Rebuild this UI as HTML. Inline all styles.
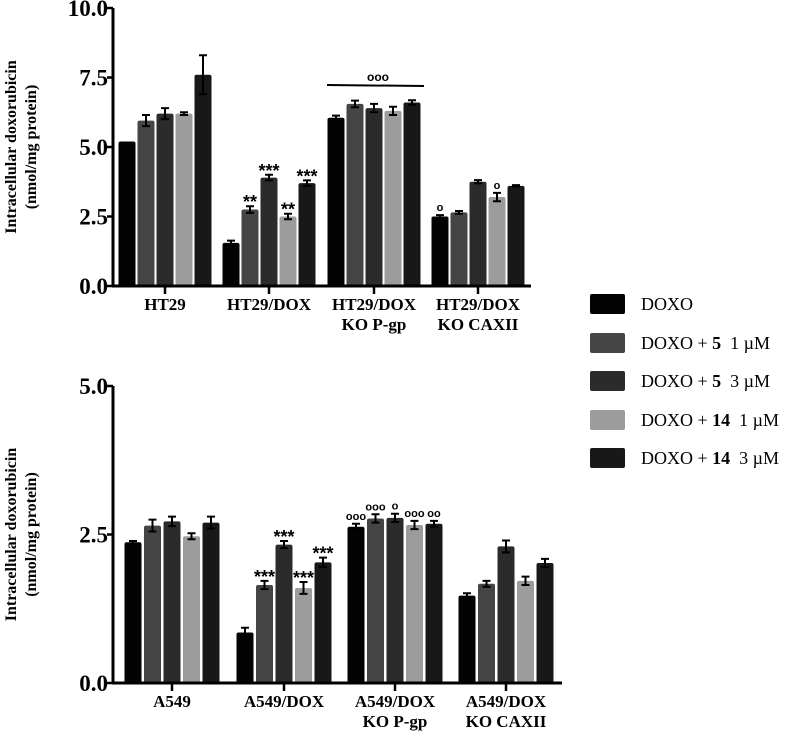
<!DOCTYPE html>
<html><head><meta charset="utf-8"><style>
html,body{margin:0;padding:0;background:#fff;}
svg{display:block;font-family:"Liberation Serif",serif;}
</style></head><body>
<svg id="c" width="796" height="748" viewBox="0 0 796 748" xmlns="http://www.w3.org/2000/svg"></svg>
<script>
const seriesNames=["DOXO","DOXO + 5  1 µM","DOXO + 5  3 µM","DOXO + 14  1 µM","DOXO + 14  3 µM"];
const colors=["#030303","#454545","#2b2b2b","#9c9c9c","#181818"];
const topCats=[["HT29"],["HT29/DOX"],["HT29/DOX","KO P-gp"],["HT29/DOX","KO CAXII"]];
const topVals=[[5.2,5.95,6.2,6.2,7.6],[1.55,2.75,3.9,2.5,3.7],[6.05,6.55,6.4,6.3,6.6],[2.5,2.65,3.75,3.2,3.6]];
const topErr=[[0,0.2,0.2,0.05,0.7],[0.08,0.12,0.1,0.1,0.1],[0.08,0.12,0.15,0.15,0.08],[0.05,0.05,0.06,0.15,0.03]];
const topMarks=[["","","","",""],["","**","***","**","***"],["","","","",""],["o","","","o",""]];
const topTicks=[0,2.5,5,7.5,10];
const botCats=[["A549"],["A549/DOX"],["A549/DOX","KO P-gp"],["A549/DOX","KO CAXII"]];
const botVals=[[2.37,2.65,2.72,2.47,2.7],[0.85,1.65,2.33,1.6,2.03],[2.63,2.77,2.78,2.66,2.68],[1.47,1.67,2.3,1.72,2.02]];
const botErr=[[0.02,0.1,0.08,0.05,0.1],[0.08,0.07,0.06,0.1,0.08],[0.05,0.07,0.07,0.07,0.05],[0.04,0.05,0.1,0.07,0.07]];
const botMarks=[["","","","",""],["","***","***","***","***"],["ooo","ooo","o","ooo","oo"],["","","","",""]];
const botTicks=[0,2.5,5];

const svg=document.getElementById('c');
const NS="http://www.w3.org/2000/svg";
function el(t,a,p){const e=document.createElementNS(NS,t);for(const k in a)e.setAttribute(k,a[k]);(p||svg).appendChild(e);return e;}

function panel(cfg){
  const g=el('g',{});
  
  
  const y=v=>cfg.y0-(v/cfg.max)*(cfg.y0-cfg.y1);
  const bw=cfg.bw, step=cfg.step;
  cfg.vals.forEach((grp,gi)=>{
    const cx=cfg.gx[gi];
    grp.forEach((v,si)=>{
      const x=cx+(si-2)*step-bw/2;
      const r=el('rect',{x:x,y:y(v),width:bw,height:cfg.y0-y(v),fill:colors[si],rx:2},g);
      
      
      const e=cfg.err[gi][si];
      if(e>0){
        const bx=x+bw/2;
        const eg=el('path',{d:`M${bx},${y(v+e)}V${y(v-e)}M${bx-4},${y(v+e)}H${bx+4}M${bx-4},${y(v-e)}H${bx+4}`,stroke:'#000','stroke-width':2,fill:'none'},g);
        
        
      }
      const m=cfg.marks[gi][si];
      if(m){
        const isStar=m[0]==='*';
        const t=el('text',{x:x+bw/2,y:y(v+e)-(isStar?-2:4),'text-anchor':'middle','font-size':isStar?18:11,'font-family':'"Liberation Sans",sans-serif','font-weight':'bold'},g);
        t.textContent=m;
        
        
      }
    });
    el('line',{x1:cx,x2:cx,y1:cfg.y0,y2:cfg.y0+8,stroke:'#000','stroke-width':2.5},g);
    cfg.cats[gi].forEach((s,li)=>{
      const t=el('text',{x:cx,y:cfg.y0+24+li*20,'text-anchor':'middle','font-size':17,'font-weight':'bold'},g);
      t.textContent=s;
      
      
    });
  });
  el('line',{x1:cfg.ax,x2:cfg.ax,y1:cfg.y1,y2:cfg.y0+1,stroke:'#000','stroke-width':3},g);
  el('line',{x1:cfg.ax-1,x2:cfg.xend,y1:cfg.y0,y2:cfg.y0,stroke:'#000','stroke-width':3},g);
  cfg.ticks.forEach(tv=>{
    el('line',{x1:cfg.ax-6,x2:cfg.ax,y1:y(tv),y2:y(tv),stroke:'#000','stroke-width':2.5},g);
    const t=el('text',{x:cfg.ax-5,y:y(tv)+8,'text-anchor':'end','font-size':23,'font-weight':'bold'},g);
    t.textContent=tv.toFixed(1);
    
    
  });
  const cy=(cfg.y0+cfg.y1)/2;
  [["Intracellular doxorubicin",16],["(nmol/mg protein)",36]].forEach(([s,xx])=>{
    const t=el('text',{x:xx,y:cy,'text-anchor':'middle','font-size':16,'font-weight':'bold',transform:`rotate(-90 ${xx} ${cy})`},g);
    t.textContent=s;
    
    
  });
  return {g,y};
}
const topPanel=panel({name:'top-panel',vals:topVals,err:topErr,marks:topMarks,cats:topCats,ticks:topTicks,max:10,y0:286,y1:8,ax:113,xend:531,gx:[165,269,374,478],bw:17,step:19});
const bl=el('line',{x1:327,x2:424,y1:85,y2:86,stroke:'#000','stroke-width':2},topPanel.g);


const bt=el('text',{x:378,y:81,'text-anchor':'middle','font-size':12,'font-family':'"Liberation Sans",sans-serif','font-weight':'bold'},topPanel.g);
bt.textContent='ooo';


panel({name:'bottom-panel',vals:botVals,err:botErr,marks:botMarks,cats:botCats,ticks:botTicks,max:5,y0:683,y1:386,ax:113,xend:562,gx:[172,284,395,506],bw:17,step:19.5});

const lg=el('g',{});


const ly=[304,343,381,420,458];
seriesNames.forEach((n,i)=>{
  el('rect',{x:590,y:ly[i]-10,width:35,height:20,fill:colors[i],rx:2},lg);
  const t=el('text',{x:641,y:ly[i]+6,'font-size':18},lg);
  
  
  const parts=n.split(' + ');
  if(parts.length===1){t.textContent=n;}
  else{
    const sub=parts[1].split('  ');
    const a=el('tspan',{},t);a.textContent='DOXO + ';
    const b=el('tspan',{'font-weight':'bold'},t);b.textContent=sub[0];
    const c=el('tspan',{},t);c.textContent='\u00a0 '+sub[1];
  }
});
</script>
</body></html>
